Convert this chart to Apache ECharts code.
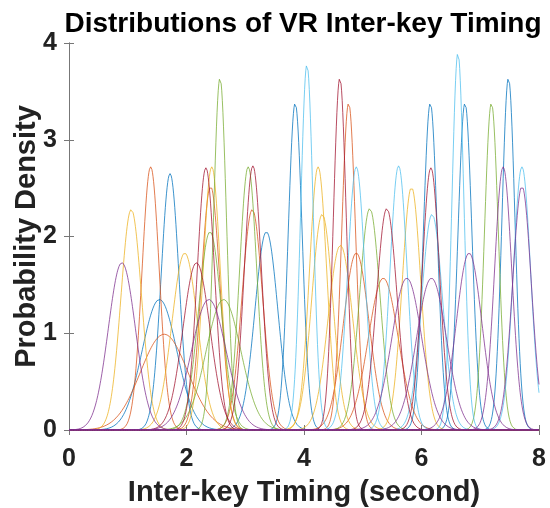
<!DOCTYPE html>
<html>
<head>
<meta charset="utf-8">
<title>Distributions of VR Inter-key Timing</title>
<script src="https://cdn.jsdelivr.net/npm/echarts@6/dist/echarts.min.js"></script>
<style>
    html, body {margin: 0; padding: 0; background: #fff;}
    #chart {width: 550px; height: 508px;}
</style>
</head>
<body>
<div id="chart"></div>
<script>
//每条分布曲线: 均值(秒) 和 峰值密度, 按颜色分组
var blueMeans = [1.72, 1.54, 3.36, 3.85, 6.15, 6.74, 7.48];
var bluePeaks = [2.65, 1.35, 2.05, 3.38, 3.38, 3.38, 3.64];
var orangeMeans = [1.39, 1.62, 2.41, 3.12, 4.76, 4.89, 5.35];
var orangePeaks = [2.72, 0.99, 2.52, 2.28, 3.38, 1.83, 1.57];
var yellowMeans = [1.06, 1.97, 2.43, 4.24, 4.31, 4.62, 5.83];
var yellowPeaks = [2.28, 1.83, 2.72, 2.72, 2.23, 1.91, 2.51];
var greenMeans = [2.57, 2.40, 2.63, 3.05, 5.12, 7.19];
var greenPeaks = [3.64, 2.05, 1.35, 2.72, 2.29, 3.38];
var cyanMeans = [4.05, 4.89, 5.61, 6.18, 6.62, 7.71];
var cyanPeaks = [3.78, 2.72, 2.73, 2.23, 3.90, 2.72];
var redMeans = [2.17, 2.33, 3.13, 4.61, 5.41, 6.16];
var redPeaks = [1.73, 2.71, 2.73, 3.64, 2.29, 2.71];
var purpleMeans = [0.90, 2.38, 5.75, 6.17, 6.81, 7.39, 7.71];
var purplePeaks = [1.73, 1.35, 1.57, 1.57, 1.83, 2.72, 2.52];

var xTicks = [0, 2, 4, 6, 8];
var yTicks = [0, 1, 2, 3, 4];

var groups = [
    {color: '#0072BD', means: blueMeans, peaks: bluePeaks},
    {color: '#D95319', means: orangeMeans, peaks: orangePeaks},
    {color: '#EDB120', means: yellowMeans, peaks: yellowPeaks},
    {color: '#77AC30', means: greenMeans, peaks: greenPeaks},
    {color: '#4DBEEE', means: cyanMeans, peaks: cyanPeaks},
    {color: '#A2142F', means: redMeans, peaks: redPeaks},
    {color: '#7E2F8E', means: purpleMeans, peaks: purplePeaks}
];

//正态分布密度, sigma 由峰值反推
function densityLine(mean, peak) {
    var sd = 1 / (peak * Math.sqrt(2 * Math.PI));
    var pts = [];
    for (var i = 0; i <= 800; i++) {
        var x = i / 100;
        var z = (x - mean) / sd;
        pts.push([x, peak * Math.exp(-0.5 * z * z)]);
    }
    return pts;
}

var series = [];
for (var g = 0; g < groups.length; g++) {
    for (var k = 0; k < groups[g].means.length; k++) {
        series.push({
            type: 'line',
            xAxisIndex: 0,
            yAxisIndex: 0,
            showSymbol: false,
            silent: true,
            animation: false,
            clip: true,
            lineStyle: {color: groups[g].color, width: 0.9, opacity: 0.85},
            data: densityLine(groups[g].means[k], groups[g].peaks[k])
        });
    }
}

var boldFont = '"Liberation Sans", Arial, sans-serif';
var axisColor = '#777';

var chart = echarts.init(document.getElementById('chart'), null, {renderer: 'canvas'});
var option = {
    backgroundColor: '#fff',
    title: {
        text: 'Distributions of VR Inter-key Timing',
        left: 298,
        top: 5,
        textAlign: 'center',
        textStyle: {fontFamily: boldFont, fontWeight: 'bold', fontSize: 28, color: '#000'}
    },
    grid: {left: 69, right: 11, top: 43, bottom: 78, containLabel: false, outerBoundsMode: 'none'},
    xAxis: [{
        type: 'value', min: 0, max: 8, interval: 2,
        name: 'Inter-key Timing (second)',
        nameLocation: 'middle', nameGap: 48, nameMoveOverlap: false,
        nameTextStyle: {fontFamily: boldFont, fontWeight: 'bold', fontSize: 29, color: '#222'},
        axisLine: {lineStyle: {color: axisColor, width: 1}},
        axisTick: {inside: true, length: 5, lineStyle: {color: axisColor}},
        axisLabel: {fontFamily: boldFont, fontWeight: 'bold', fontSize: 25, color: '#222', margin: 17,
            formatter: function (v) { return xTicks.indexOf(v) >= 0 ? String(v) : ''; }},
        splitLine: {show: false}
    }, {
        type: 'value', min: 0, max: 8, interval: 2, position: 'top',
        axisLine: {show: true, lineStyle: {color: axisColor, width: 1}},
        axisTick: {inside: true, length: 5, lineStyle: {color: axisColor}},
        axisLabel: {show: false},
        splitLine: {show: false}
    }],
    yAxis: [{
        type: 'value', min: 0, max: 4, interval: 1,
        name: 'Probability Density',
        nameLocation: 'middle', nameGap: 28, nameMoveOverlap: false,
        nameTextStyle: {fontFamily: boldFont, fontWeight: 'bold', fontSize: 29, color: '#222'},
        axisLine: {show: true, lineStyle: {color: axisColor, width: 1}},
        axisTick: {show: true, inside: true, length: 5, lineStyle: {color: axisColor}},
        axisLabel: {fontFamily: boldFont, fontWeight: 'bold', fontSize: 25, color: '#222', margin: 12,
            formatter: function (v) { return yTicks.indexOf(v) >= 0 ? String(v) : ''; }},
        splitLine: {show: false}
    }, {
        type: 'value', min: 0, max: 4, interval: 1, position: 'right',
        axisLine: {show: true, lineStyle: {color: axisColor, width: 1}},
        axisTick: {show: true, inside: true, length: 5, lineStyle: {color: axisColor}},
        axisLabel: {show: false},
        splitLine: {show: false}
    }],
    series: series
};
chart.setOption(option);
</script>
</body>
</html>
